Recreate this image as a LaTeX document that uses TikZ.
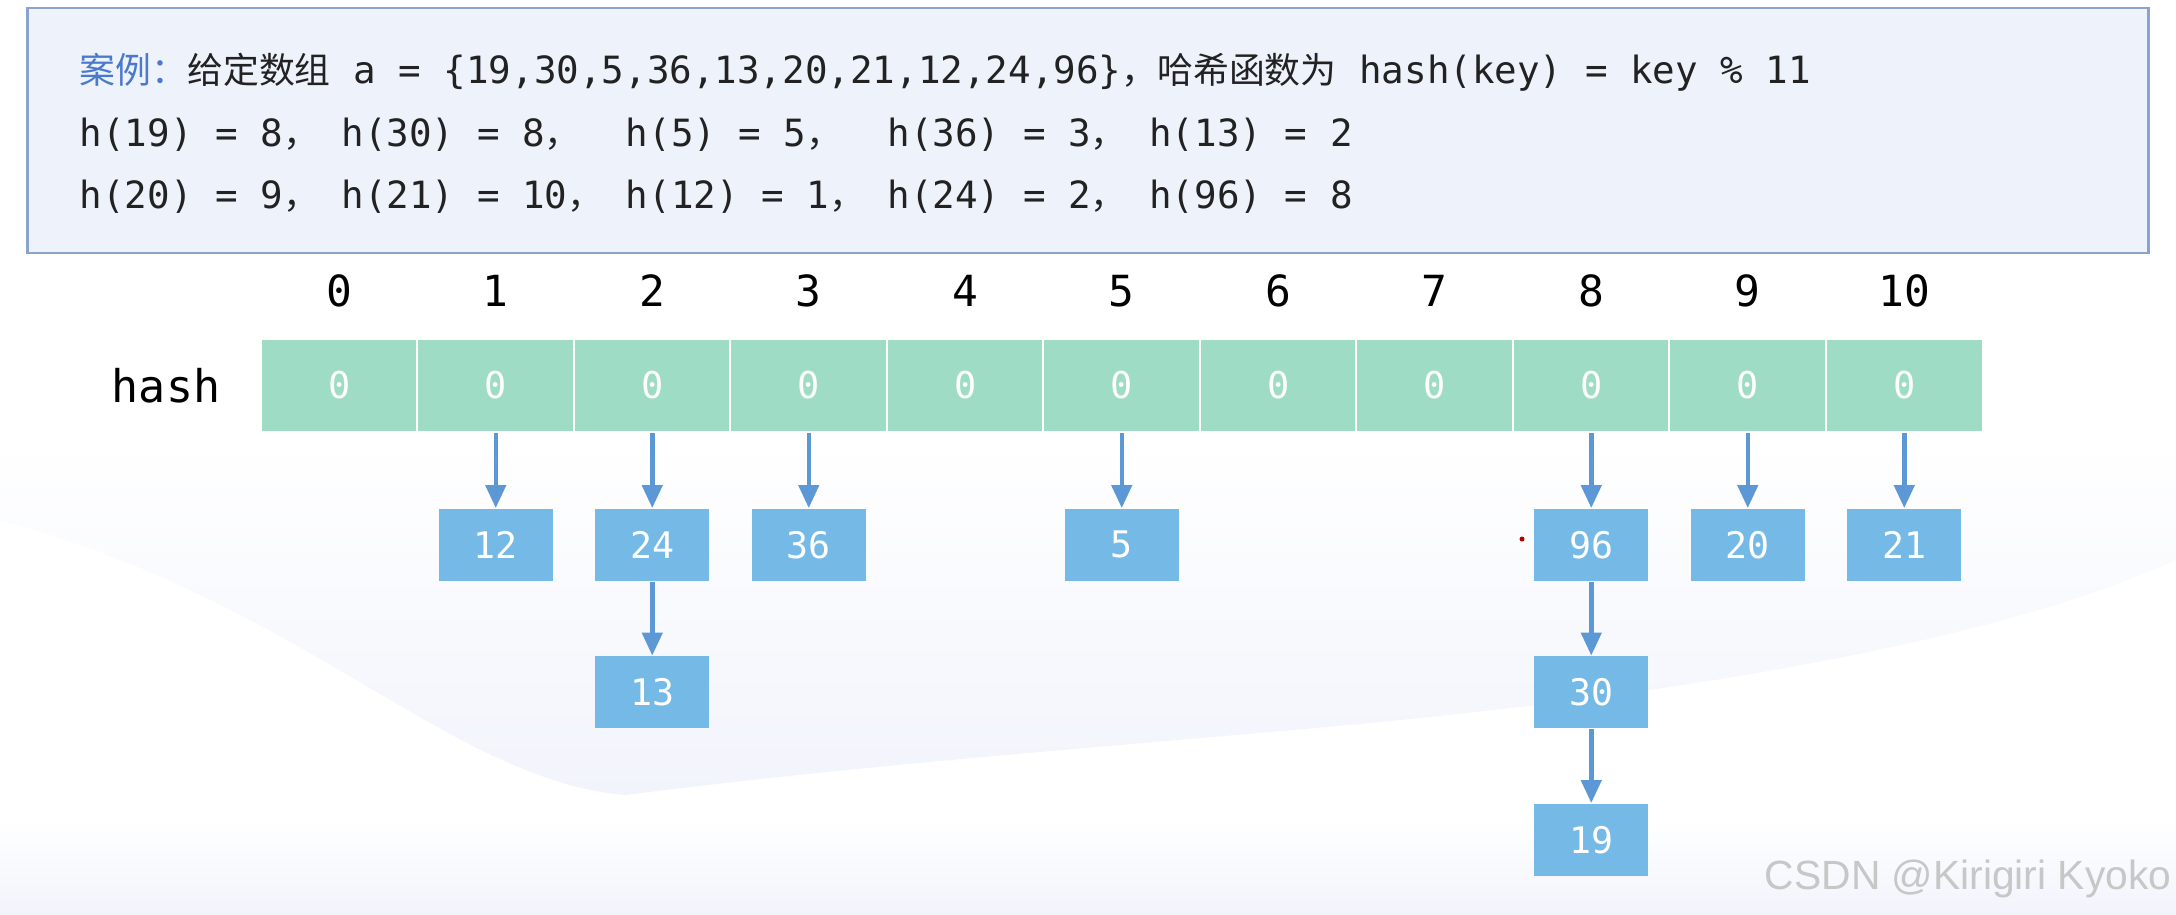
\documentclass[tikz,border=0pt]{standalone}
\usepackage{fontspec}
\setmonofont{DejaVu Sans Mono}
\newfontfamily\cjk{Noto Sans CJK SC}
\newfontfamily\wmfont{Liberation Sans}
\usepackage{tikz}
\usetikzlibrary{arrows.meta, positioning}
\definecolor{cellgreen}{RGB}{158,220,198}
\definecolor{nodeblue}{RGB}{117,185,231}
\definecolor{arrowblue}{RGB}{91,152,213}
\definecolor{casefill}{RGB}{237,242,251}
\definecolor{caseedge}{RGB}{138,164,206}
\definecolor{casetitle}{RGB}{74,122,204}
\definecolor{textdark}{RGB}{34,34,34}
\definecolor{wavecol}{RGB}{242,244,252}
\newcommand{\zh}[1]{{\cjk\fontsize{10.2pt}{12pt}\selectfont #1}}

\begin{document}
\begin{tikzpicture}[x=0.01cm, y=-0.01cm,
    cell/.style={draw=white, line width=0.02cm, fill=cellgreen, minimum width=1.565cm, minimum height=0.93cm, inner sep=0pt, text=white, font=\ttfamily\fontsize{10.5pt}{12pt}\selectfont},
    idx/.style={inner sep=0pt, text=black, font=\ttfamily\fontsize{12.2pt}{14pt}\selectfont},
    item/.style={fill=nodeblue, minimum width=1.14cm, minimum height=0.72cm, inner sep=0pt, text=white, font=\ttfamily\fontsize{10.4pt}{12pt}\selectfont},
    link/.style={draw=arrowblue, line width=0.045cm, -{Triangle[length=0.23cm, width=0.2cm]}},
    textline/.style={anchor=base west, inner sep=0pt, text=textdark, font=\ttfamily\fontsize{10.67pt}{13pt}\selectfont}]
    \useasboundingbox (0,0) rectangle (2176,914);
    \fill[white] (0,0) rectangle (2176,914);
    \shade[top color=white, bottom color=wavecol] (0,440) -- (2176,440) -- (2176,560) .. controls (2000,640) and (1700,690) .. (1400,720) .. controls (1200,740) and (900,760) .. (625,795) .. controls (450,780) and (300,600) .. (0,520) -- cycle;
    \shade[top color=white, bottom color=wavecol] (0,820) rectangle (2176,914);

    \node[draw=caseedge, line width=0.025cm, fill=casefill, minimum width=21.2cm, minimum height=2.45cm, inner sep=0pt] (case) at (1088,130.5) {};
    \node[textline] (l1) at (79,83) {\zh{\color{casetitle}案例：}\zh{给定数组} a = \{19,30,5,36,13,20,21,12,24,96\}\zh{，哈希函数为} hash(key) = key \% 11};
    \node[textline] (l2) at (79,146) {h(19) = 8\zh{，}~h(30) = 8\zh{，}~~h(5) = 5\zh{，}~~h(36) = 3\zh{，}~h(13) = 2};
    \node[textline] (l3) at (79,208) {h(20) = 9\zh{，}~h(21) = 10\zh{，}~h(12) = 1\zh{，}~h(24) = 2\zh{，}~h(96) = 8};

    \foreach \i in {0,...,10} {
        \node[cell] (c\i) at (339.25+156.5*\i, 385.5) {0};
        \node[idx] (i\i) at (339.25+156.5*\i, 291) {\i};
    }
    \node[inner sep=0pt, left=0.39cm of c0, font=\ttfamily\fontsize{12.8pt}{15pt}\selectfont] (hashlbl) {hash};

    \node[item, below=0.75cm of c1] (n12) {12};
    \node[item, below=0.75cm of c2] (n24) {24};
    \node[item, below=0.74cm of n24] (n13) {13};
    \node[item, below=0.75cm of c3] (n36) {36};
    \node[item, below=0.75cm of c5] (n5) {5};
    \node[item, below=0.75cm of c8] (n96) {96};
    \node[item, below=0.74cm of n96] (n30) {30};
    \node[item, below=0.74cm of n30] (n19) {19};
    \node[item, below=0.75cm of c9] (n20) {20};
    \node[item, below=0.75cm of c10] (n21) {21};

    \foreach \a/\b in {c1/n12, c2/n24, n24/n13, c3/n36, c5/n5, c8/n96, n96/n30, n30/n19, c9/n20, c10/n21}
        \draw[link] (\a) -- (\b);

    \fill[red!70!black] (1522,539) circle (0.025cm);
    \node[anchor=east, inner sep=0pt, text=black!22, font=\wmfont\fontsize{11.6pt}{13pt}\selectfont] (mark) at (2172,879) {CSDN @Kirigiri Kyoko};
\end{tikzpicture}
\end{document}
